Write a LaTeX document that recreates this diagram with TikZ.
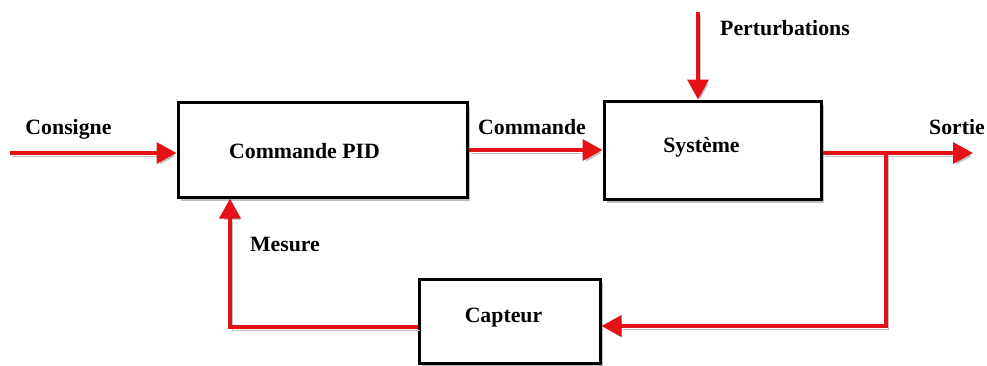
\documentclass[tikz,border=0pt]{standalone}
\usepackage{fontspec}
\setmainfont{Liberation Serif}
\usetikzlibrary{arrows.meta,shadows}
\definecolor{sigred}{RGB}{228,18,22}
\tikzset{
  box/.style={draw=black, line width=3pt, fill=white, inner sep=0pt,
    drop shadow={shadow xshift=3pt, shadow yshift=-4pt, opacity=0.45, fill=black!55}},
  lab/.style={font=\bfseries\fontsize{21.8}{26}\selectfont, inner sep=0pt, text=black},
  sig/.style={draw=sigred, line width=3.5pt, -{Triangle[length=20pt,width=21pt]},
    preaction={draw=black!25, transform canvas={shift={(2pt,-3pt)}}}},
}
\begin{document}
\begin{tikzpicture}[x=1pt,y=-1pt]
\useasboundingbox (0,0) rectangle (987,365);
% blocks
\node[box, minimum width=289pt, minimum height=95pt,
  label={[lab, xshift=-18pt, yshift=-1.5pt]center:Commande PID}] (pid) at (322.5,149.5) {};
\node[box, minimum width=217pt, minimum height=98pt,
  label={[lab, xshift=-11pt, yshift=3pt]center:Système}] (sys) at (712.5,150) {};
\node[box, minimum width=181pt, minimum height=84pt,
  label={[lab, xshift=-6pt, yshift=3pt]center:Capteur}] (cap) at (509.5,321) {};
% free ends
\coordinate (cin) at (10,153);
\coordinate (ptop) at (698,12);
\coordinate (sout) at (973,153);
\coordinate (br) at (886,153);
\coordinate (mes) at (230,327);
% connectors
\draw[sig] (cin) -- (cin -| pid.west);
\draw[sig] (pid.east |- 0,150) -- (sys.west |- 0,150);
\draw[sig] (ptop) -- (ptop |- sys.north);
\draw[sig] (sys.east |- sout) -- (sout);
\draw[sig] (br) -- (br |- 0,326) -- (cap.east |- 0,326);
\draw[sig] (cap.west |- mes) -- (mes) -- (mes |- pid.south);
% labels
\node[lab] (lcons) at (68.5,129) {Consigne};
\node[lab] (lcmd) at (532,127) {Commande};
\node[lab] (lpert) at (785,28) {Perturbations};
\node[lab] (lsort) at (957,127) {Sortie};
\node[lab] (lmes) at (285,244) {Mesure};
\end{tikzpicture}
\end{document}
